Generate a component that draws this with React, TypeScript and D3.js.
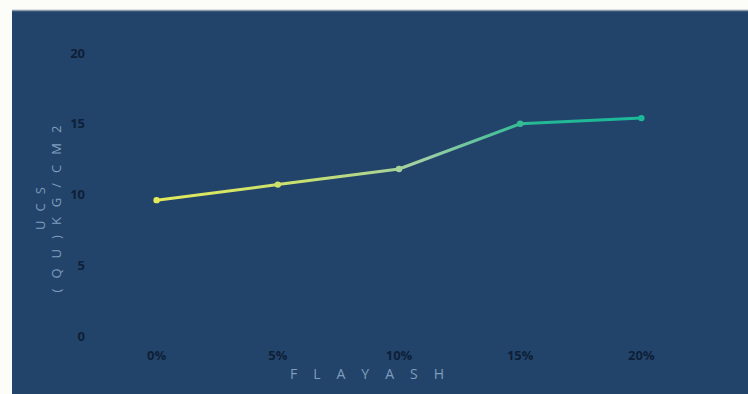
import React from "react";
import * as d3 from "d3";

const categories = ["0%", "5%", "10%", "15%", "20%"];
const ucsValues = [9.6, 10.7, 11.8, 15.0, 15.4];
const yTicks = [0, 5, 10, 15, 20];
const xTitle = "FLAYASH";
const yTitleLine1 = "UCS";
const yTitleLine2 = "(QU)KG/CM2";

const W = 748;
const H = 394;

export default function App() {
  const x = d3.scalePoint<string>().domain(categories).range([96, 702]).padding(0.5);
  const y = d3.scaleLinear().domain([0, 20]).range([336, 53]);
  const pts = categories.map((c, i) => [x(c)!, y(ucsValues[i])] as [number, number]);
  const line = d3.line<[number, number]>().x((d) => d[0]).y((d) => d[1]);
  const x0 = x(categories[0])!;
  const x1 = x(categories[categories.length - 1])!;
  const tickColor = "#0e1f38";
  const titleColor = "#7f9dbd";
  return (
    <svg width={W} height={H} style={{ position: "absolute", left: 0, top: 0 }} fontFamily="'Open Sans', sans-serif">
      <defs>
        <linearGradient id="lg" gradientUnits="userSpaceOnUse" x1={x0} y1={0} x2={x1} y2={0}>
          <stop offset="0" stopColor="#e4ea5a" />
          <stop offset="0.3" stopColor="#c8e070" />
          <stop offset="0.55" stopColor="#9fcfa4" />
          <stop offset="0.78" stopColor="#25b894" />
          <stop offset="1" stopColor="#1ab99a" />
        </linearGradient>
      </defs>
      <rect x={0} y={0} width={W} height={H} fill="#fcfdf8" />
      <rect x={12} y={10} width={W - 12} height={H - 10} fill="#22446a" />
      <line x1={12} x2={W} y1={10.5} y2={10.5} stroke="#8a98ab" strokeWidth={1.5} />
      {yTicks.map((t) => (
        <text key={t} x={85} y={y(t)} dy="0.35em" textAnchor="end" fontSize={13} fill={tickColor} fontWeight={700}>
          {t}
        </text>
      ))}
      {categories.map((c) => (
        <text key={c} x={x(c)!} y={355} dy="0.35em" textAnchor="middle" fontSize={13} fill={tickColor} fontWeight={700}>
          {c}
        </text>
      ))}
      <text
        transform={`translate(${40},${204}) rotate(-90)`}
        textAnchor="middle"
        dy="0.35em"
        fontSize={13}
        letterSpacing={9}
        fill={titleColor}
      >
        {yTitleLine1}
      </text>
      <text
        transform={`translate(${56},${204}) rotate(-90)`}
        textAnchor="middle"
        dy="0.35em"
        fontSize={13}
        letterSpacing={10}
        fill={titleColor}
      >
        {yTitleLine2}
      </text>
      <text x={375} y={374} dy="0.35em" textAnchor="middle" fontSize={14} letterSpacing={16} fill={titleColor}>
        {xTitle}
      </text>
      <path d={line(pts)!} fill="none" stroke="url(#lg)" strokeWidth={3} strokeLinejoin="round" />
      {pts.map((p, i) => (
        <circle key={i} cx={p[0]} cy={p[1]} r={3.2} fill="url(#lg)" />
      ))}
    </svg>
  );
}
